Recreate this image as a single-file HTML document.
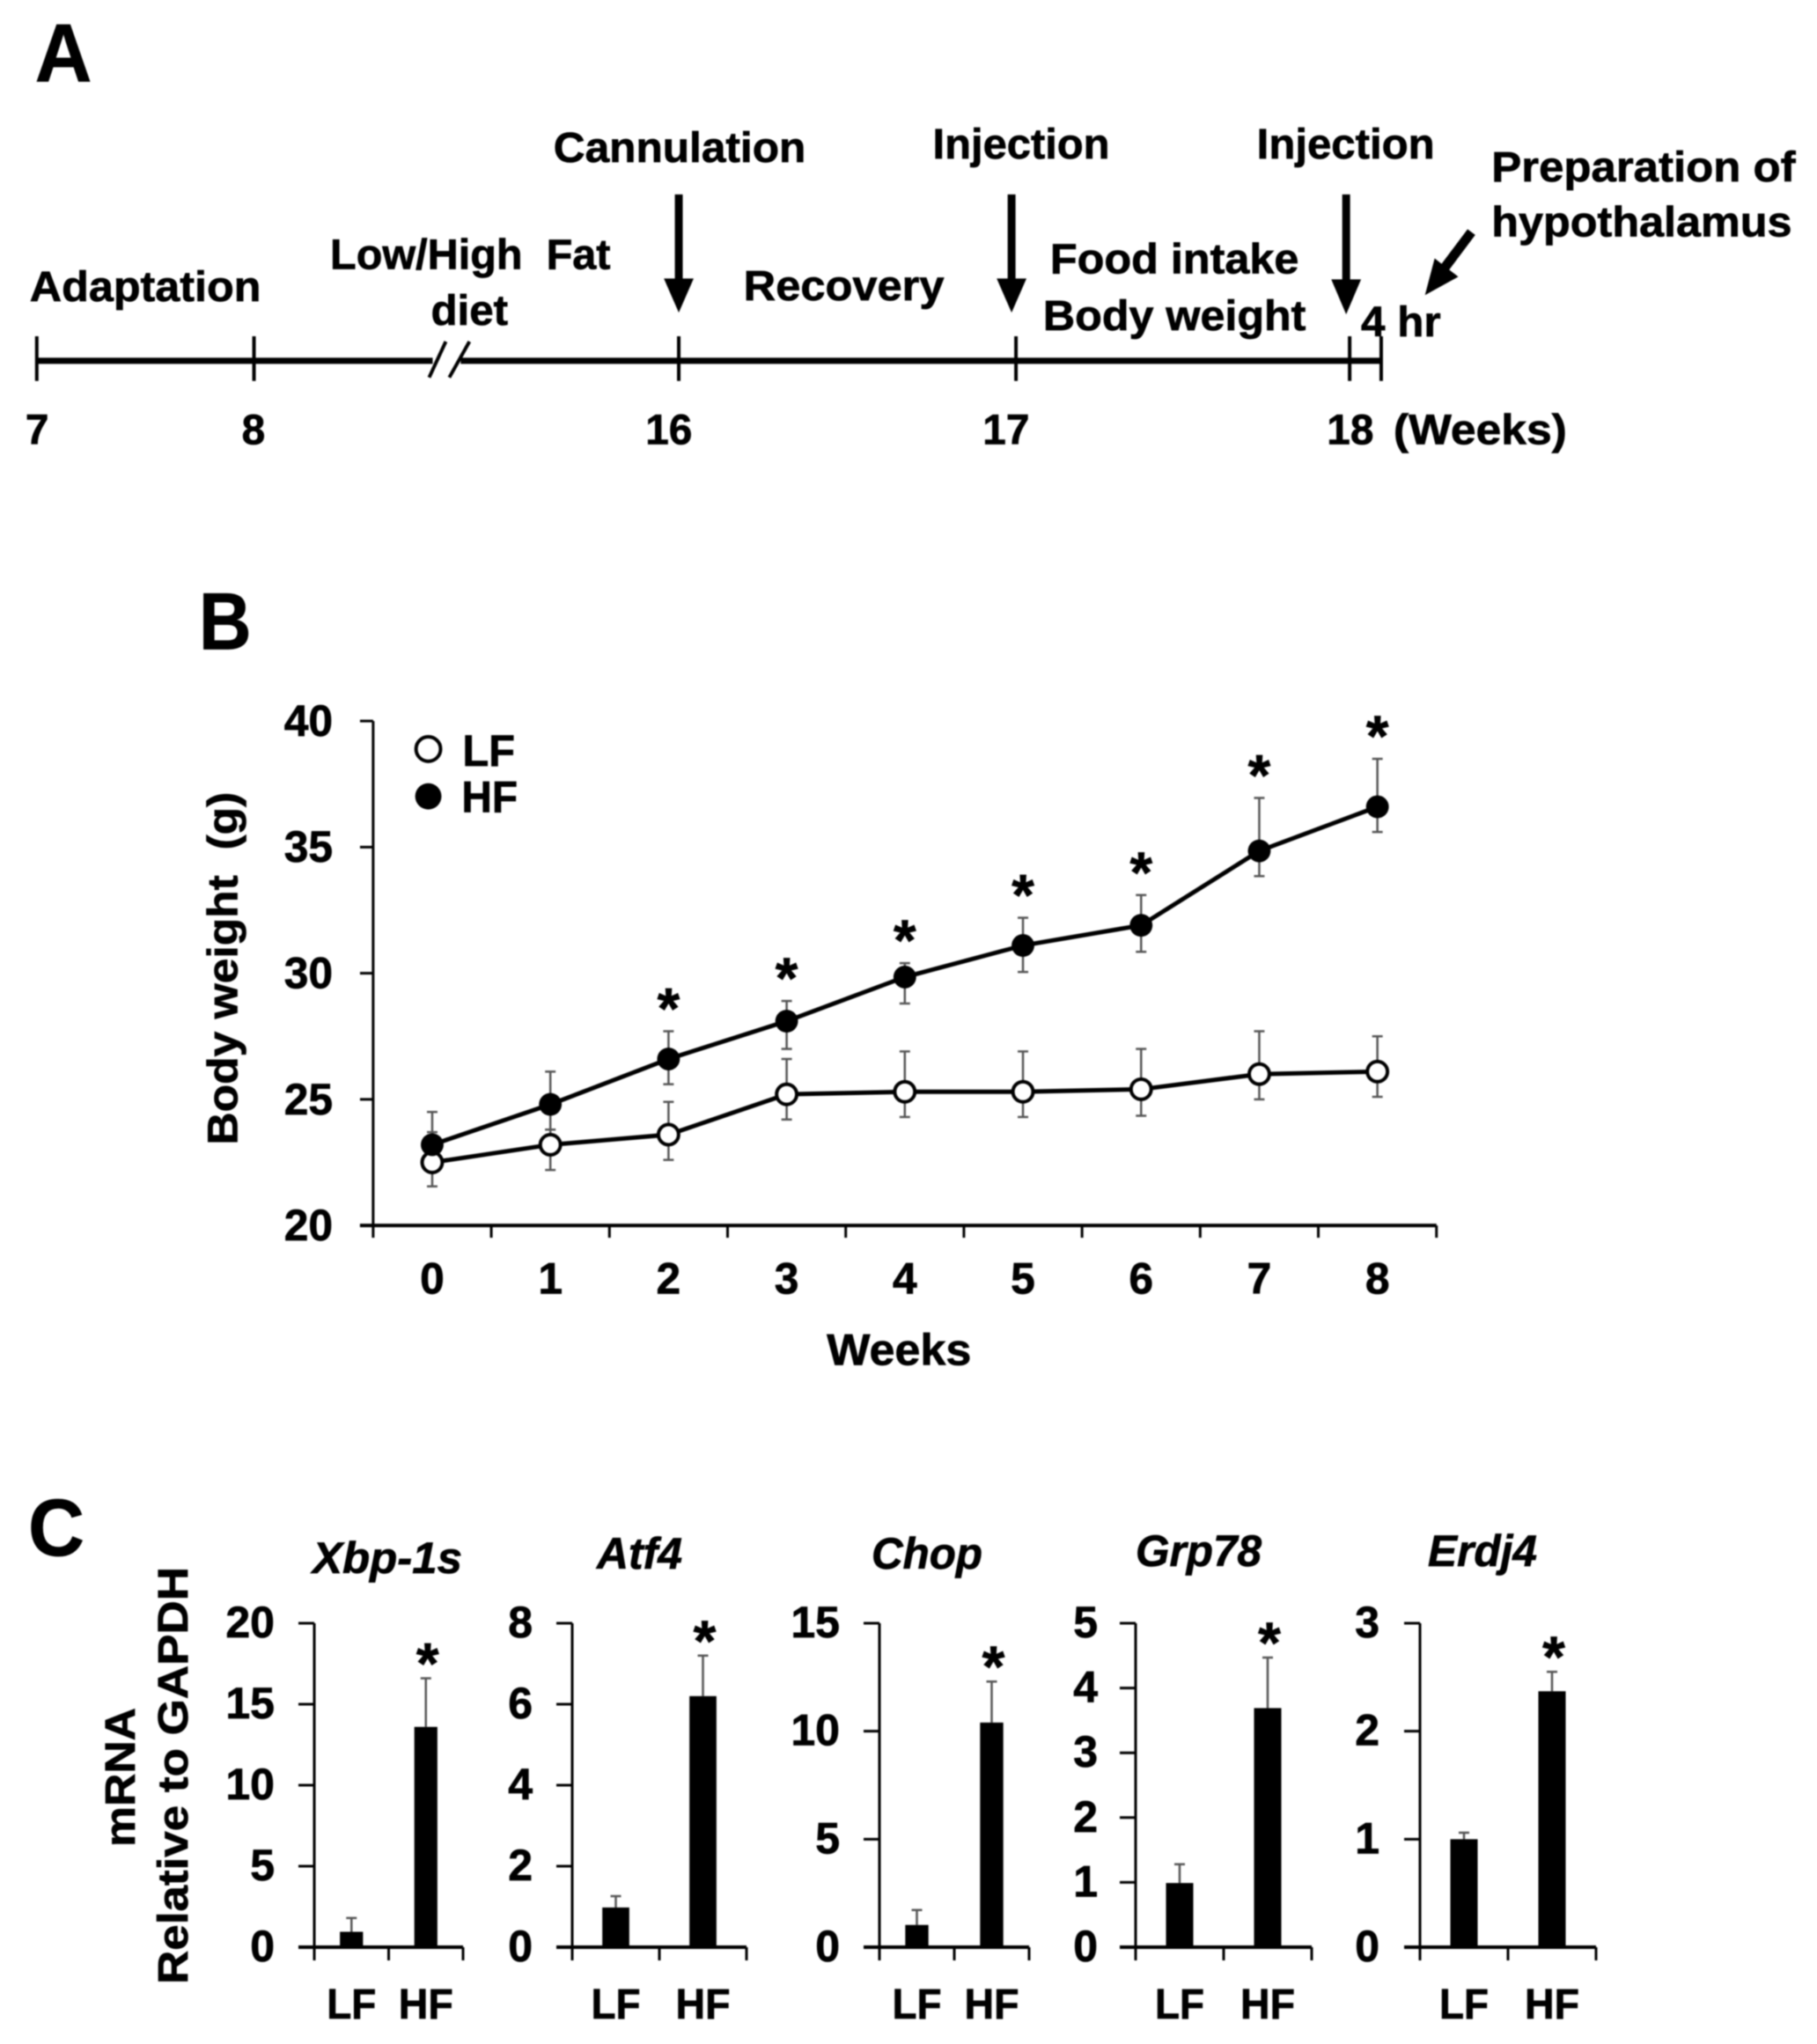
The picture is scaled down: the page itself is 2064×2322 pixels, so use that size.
<!DOCTYPE html>
<html lang="en">
<head>
<meta charset="utf-8">
<title>Experimental timeline, body weight and mRNA expression</title>
<style>
html,body{margin:0;padding:0;background:#fff;}
svg{display:block;filter:blur(0.7px);}
text{font-family:"Liberation Sans",sans-serif;font-weight:700;fill:#000;stroke:#000;stroke-width:0.7px;}
</style>
</head>
<body>
<svg id="figure" xmlns="http://www.w3.org/2000/svg" width="2064" height="2322" viewBox="0 0 2064 2322">
<rect x="0" y="0" width="2064" height="2322" fill="#fff"/>

<g id="panel-a" transform="scale(0.9949)">
  <text x="40" y="93" font-size="94" textLength="65" lengthAdjust="spacingAndGlyphs">A</text>
  <line x1="42" y1="412" x2="494" y2="412" stroke="#000" stroke-width="7"/>
  <line x1="526" y1="412" x2="1577" y2="412" stroke="#000" stroke-width="7"/>
  <line x1="490" y1="431" x2="509" y2="390" stroke="#000" stroke-width="4"/>
  <line x1="513" y1="431" x2="536" y2="390" stroke="#000" stroke-width="4"/>
  <g stroke="#000" stroke-width="4">
    <line x1="42" y1="384" x2="42" y2="435"/>
    <line x1="290" y1="384" x2="290" y2="435"/>
    <line x1="775" y1="384" x2="775" y2="435"/>
    <line x1="1160" y1="384" x2="1160" y2="435"/>
    <line x1="1541" y1="384" x2="1541" y2="435"/>
    <line x1="1577" y1="384" x2="1577" y2="435"/>
  </g>
  <g><line x1="775" y1="222" x2="775" y2="325" stroke="#000" stroke-width="9"/><polygon points="758,318 792,318 775,357" fill="#000"/></g>
  <g><line x1="1155" y1="222" x2="1155" y2="325" stroke="#000" stroke-width="9"/><polygon points="1138,318 1172,318 1155,357" fill="#000"/></g>
  <g><line x1="1537" y1="222" x2="1537" y2="325" stroke="#000" stroke-width="9"/><polygon points="1520,319 1554,319 1537,359" fill="#000"/></g>
  <g><line x1="1680" y1="265" x2="1650" y2="305" stroke="#000" stroke-width="11"/><polygon points="1638,295 1665,316 1627,337" fill="#000"/></g>

  <text x="632" y="185" font-size="48" textLength="288" lengthAdjust="spacingAndGlyphs">Cannulation</text>
  <text x="1065" y="181" font-size="48" textLength="202" lengthAdjust="spacingAndGlyphs">Injection</text>
  <text x="1435" y="181" font-size="48" textLength="203" lengthAdjust="spacingAndGlyphs">Injection</text>
  <text x="1703" y="207" font-size="48" textLength="347" lengthAdjust="spacingAndGlyphs">Preparation of</text>
  <text x="1703" y="270" font-size="48" textLength="343" lengthAdjust="spacingAndGlyphs">hypothalamus</text>
  <text x="377" y="307" font-size="48" textLength="320" lengthAdjust="spacingAndGlyphs">Low/High&#160;&#160;Fat</text>
  <text x="492" y="371" font-size="48" textLength="88" lengthAdjust="spacingAndGlyphs">diet</text>
  <text x="34" y="344" font-size="48" textLength="264" lengthAdjust="spacingAndGlyphs">Adaptation</text>
  <text x="849" y="343" font-size="48" textLength="229" lengthAdjust="spacingAndGlyphs">Recovery</text>
  <text x="1199" y="312" font-size="48" textLength="284" lengthAdjust="spacingAndGlyphs">Food intake</text>
  <text x="1191" y="377" font-size="48" textLength="300" lengthAdjust="spacingAndGlyphs">Body weight</text>
  <text x="1554" y="384" font-size="48" textLength="91" lengthAdjust="spacingAndGlyphs">4 hr</text>
  <text x="29" y="507" font-size="48">7</text>
  <text x="276" y="507" font-size="48">8</text>
  <text x="737" y="507" font-size="48">16</text>
  <text x="1122" y="507" font-size="48">17</text>
  <text x="1515" y="507" font-size="48">18</text>
  <text x="1591" y="507" font-size="48" textLength="198" lengthAdjust="spacingAndGlyphs">(Weeks)</text>
</g>

<g id="panel-b" transform="translate(200,640) scale(0.9949) translate(-200,-640)">
  <text x="226" y="738" font-size="92" textLength="60" lengthAdjust="spacingAndGlyphs">B</text>
  <text transform="translate(270,1304) rotate(-90)" font-size="48" textLength="403" lengthAdjust="spacingAndGlyphs">Body weight&#160;&#160;(g)</text>
  <text x="943" y="1555" font-size="50" textLength="165" lengthAdjust="spacingAndGlyphs">Weeks</text>
  <circle cx="488" cy="852" r="14" fill="#fff" stroke="#000" stroke-width="4"/>
  <circle cx="488" cy="906" r="15" fill="#000"/>
  <text x="527" y="871" font-size="50" textLength="60" lengthAdjust="spacingAndGlyphs">LF</text>
  <text x="526" y="924" font-size="50" textLength="64" lengthAdjust="spacingAndGlyphs">HF</text>
</g>

<g id="panel-c">
  <text x="32" y="1767" font-size="92" textLength="64" lengthAdjust="spacingAndGlyphs">C</text>
  <text transform="translate(153,2098) rotate(-90)" font-size="48" textLength="158" lengthAdjust="spacingAndGlyphs">mRNA</text>
  <text transform="translate(213,2254) rotate(-90)" font-size="48" textLength="474" lengthAdjust="spacingAndGlyphs">Relative to GAPDH</text>
</g>
</svg>

<script>
// Panel B data
const weeks = [0, 1, 2, 3, 4, 5, 6, 7, 8];
const weightTicks = [20, 25, 30, 35, 40];
const lfWeight = [22.5, 23.2, 23.6, 25.2, 25.3, 25.3, 25.4, 26.0, 26.1];
const hfWeight = [23.2, 24.8, 26.6, 28.1, 29.85, 31.1, 31.9, 34.85, 36.6];
const lfUpper = [23.7, 23.8, 24.9, 26.6, 26.9, 26.9, 27.0, 27.7, 27.5];
const lfLower = [21.55, 22.2, 22.6, 24.2, 24.3, 24.3, 24.35, 25.0, 25.1];
const hfUpper = [24.5, 26.1, 27.7, 28.9, 30.4, 32.2, 33.1, 36.95, 38.5];
const hfLower = [22.2, 23.8, 25.6, 27.0, 28.8, 30.05, 30.85, 33.85, 35.6];
const significantWeeks = [2, 3, 4, 5, 6, 7, 8];

// Panel C data
const groups = ['LF', 'HF'];
const xbpTicks = [0, 5, 10, 15, 20];
const xbpMeans = [0.95, 13.6];
const xbpErrors = [0.85, 3.0];
const atf4Ticks = [0, 2, 4, 6, 8];
const atf4Means = [0.98, 6.2];
const atf4Errors = [0.28, 1.0];
const chopTicks = [0, 5, 10, 15];
const chopMeans = [1.03, 10.4];
const chopErrors = [0.69, 1.9];
const grpTicks = [0, 1, 2, 3, 4, 5];
const grpMeans = [0.99, 3.69];
const grpErrors = [0.29, 0.78];
const erdjTicks = [0, 1, 2, 3];
const erdjMeans = [1.0, 2.37];
const erdjErrors = [0.06, 0.18];

const NS = 'http://www.w3.org/2000/svg';

function make(parent, tag, attrs, content) {
  const el = document.createElementNS(NS, tag);
  Object.keys(attrs).forEach(function (k) { el.setAttribute(k, attrs[k]); });
  if (content !== undefined) el.textContent = content;
  parent.appendChild(el);
  return el;
}

function linearScale(d0, d1, r0, r1) {
  return function (v) { return r0 + (v - d0) * (r1 - r0) / (d1 - d0); };
}

/* ---------- Panel B ---------- */
(function drawPanelB() {
  const g = document.getElementById('panel-b');
  const y = linearScale(20, 40, 1396, 820);
  const slot = 134.9;
  const x0 = 425;
  const x = function (w) { return x0 + (w + 0.5) * slot; };

  const yAxis = make(g, 'line', { x1: x0, y1: y(40), x2: x0, y2: y(20), stroke: '#000', 'stroke-width': 3 });
  
  
  const xAxis = make(g, 'line', { x1: 410, y1: y(20), x2: x0 + weeks.length * slot, y2: y(20), stroke: '#000', 'stroke-width': 4 });
  
  

  weightTicks.forEach(function (t) {
    const tick = make(g, 'line', { x1: 410, y1: y(t), x2: x0, y2: y(t), stroke: '#000', 'stroke-width': 3 });
    
    
    const label = make(g, 'text', { x: 379, y: y(t) + 17, 'font-size': 50, 'text-anchor': 'end' }, String(t));
    
    
  });

  for (let i = 0; i <= weeks.length; i++) {
    const tx = x0 + i * slot;
    const tick = make(g, 'line', { x1: tx, y1: y(20), x2: tx, y2: 1410, stroke: '#000', 'stroke-width': 3 });
    
    
  }
  weeks.forEach(function (w) {
    const label = make(g, 'text', { x: x(w), y: 1474, 'font-size': 50, 'text-anchor': 'middle' }, String(w));
    
    
  });

  function errorBar(series, w, up, low) {
    const cx = x(w);
    const stem = make(g, 'line', { x1: cx, y1: y(up), x2: cx, y2: y(low), stroke: '#555', 'stroke-width': 2.5 });
    
    
    const capTop = make(g, 'line', { x1: cx - 6, y1: y(up), x2: cx + 6, y2: y(up), stroke: '#555', 'stroke-width': 2.5 });
    
    
    const capLow = make(g, 'line', { x1: cx - 6, y1: y(low), x2: cx + 6, y2: y(low), stroke: '#555', 'stroke-width': 2.5 });
    
    
  }

  function seriesLine(name, values) {
    const pts = values.map(function (v, i) { return x(weeks[i]) + ',' + y(v); }).join(' ');
    const line = make(g, 'polyline', { points: pts, fill: 'none', stroke: '#000', 'stroke-width': 5, 'stroke-linejoin': 'round' });
    
    
  }

  weeks.forEach(function (w, i) { errorBar('lf', w, lfUpper[i], lfLower[i]); });
  weeks.forEach(function (w, i) { errorBar('hf', w, hfUpper[i], hfLower[i]); });
  seriesLine('lf', lfWeight);
  seriesLine('hf', hfWeight);

  weeks.forEach(function (w, i) {
    const p = make(g, 'circle', { cx: x(w), cy: y(lfWeight[i]), r: 11.5, fill: '#fff', stroke: '#000', 'stroke-width': 4 });
    
    
  });
  weeks.forEach(function (w, i) {
    const p = make(g, 'circle', { cx: x(w), cy: y(hfWeight[i]), r: 13, fill: '#000' });
    
    
  });

  significantWeeks.forEach(function (w) {
    const s = make(g, 'text', { x: x(w), y: y(hfUpper[weeks.indexOf(w)]) - 3, 'font-size': 66, 'text-anchor': 'middle' }, '*');
    
    
  });
})();

/* ---------- Panel C ---------- */
function drawBarPanel(key, title, ticks, means, errors, axisX, endX, labelRight, titleX, titleBase, titleLen) {
  const root = document.getElementById('panel-c');
  const g = make(root, 'g', {});
  
  

  const maxTick = ticks[ticks.length - 1];
  const y = linearScale(0, maxTick, 2212, 1844);
  const band = (endX - axisX) / groups.length;
  const x = function (i) { return axisX + (i + 0.5) * band; };
  const barWidth = band * 0.31;

  const t = make(g, 'text', { x: titleX, y: titleBase, 'font-size': 50, 'font-style': 'italic', textLength: titleLen, lengthAdjust: 'spacingAndGlyphs' }, title);
  
  

  means.forEach(function (m, i) {
    const cx = x(i);
    const top = y(m + errors[i]);
    const stem = make(g, 'line', { x1: cx, y1: top, x2: cx, y2: y(m), stroke: '#555', 'stroke-width': 2.5 });
    
    
    const cap = make(g, 'line', { x1: cx - 6, y1: top, x2: cx + 6, y2: top, stroke: '#555', 'stroke-width': 2.5 });
    
    
    const bar = make(g, 'rect', { x: cx - barWidth / 2, y: y(m), width: barWidth, height: y(0) - y(m), fill: '#000' });
    
    
    const label = make(g, 'text', { x: cx, y: 2293, 'font-size': 48, 'text-anchor': 'middle', textLength: groups[i] === 'LF' ? 56 : 62, lengthAdjust: 'spacingAndGlyphs' }, groups[i]);
    
    
  });

  const yAxis = make(g, 'line', { x1: axisX, y1: y(maxTick), x2: axisX, y2: y(0), stroke: '#000', 'stroke-width': 3 });
  
  
  const xAxis = make(g, 'line', { x1: axisX - 18, y1: y(0), x2: endX, y2: y(0), stroke: '#000', 'stroke-width': 4 });
  
  

  ticks.forEach(function (v) {
    const tick = make(g, 'line', { x1: axisX - 18, y1: y(v), x2: axisX, y2: y(v), stroke: '#000', 'stroke-width': 3 });
    
    
    const label = make(g, 'text', { x: labelRight, y: y(v) + 16, 'font-size': 50, 'text-anchor': 'end' }, String(v));
    
    
  });

  for (let i = 0; i <= groups.length; i++) {
    const tx = axisX + i * band;
    const tick = make(g, 'line', { x1: tx, y1: y(0), x2: tx, y2: 2227, stroke: '#000', 'stroke-width': 3 });
    
    
  }

  const star = make(g, 'text', { x: x(1) + 2, y: y(means[1] + errors[1]) + 6, 'font-size': 66, 'text-anchor': 'middle' }, '*');
  
  
}

drawBarPanel('xbp-1s', 'Xbp-1s', xbpTicks, xbpMeans, xbpErrors, 357, 526, 312, 355, 1787, 170);
drawBarPanel('atf4', 'Atf4', atf4Ticks, atf4Means, atf4Errors, 650, 848, 605, 678, 1782, 97);
drawBarPanel('chop', 'Chop', chopTicks, chopMeans, chopErrors, 999, 1169, 954, 990, 1782, 126);
drawBarPanel('grp78', 'Grp78', grpTicks, grpMeans, grpErrors, 1290, 1490, 1247, 1290, 1779, 143);
drawBarPanel('erdj4', 'Erdj4', erdjTicks, erdjMeans, erdjErrors, 1613, 1813, 1567, 1622, 1779, 124);
</script>
</body>
</html>
